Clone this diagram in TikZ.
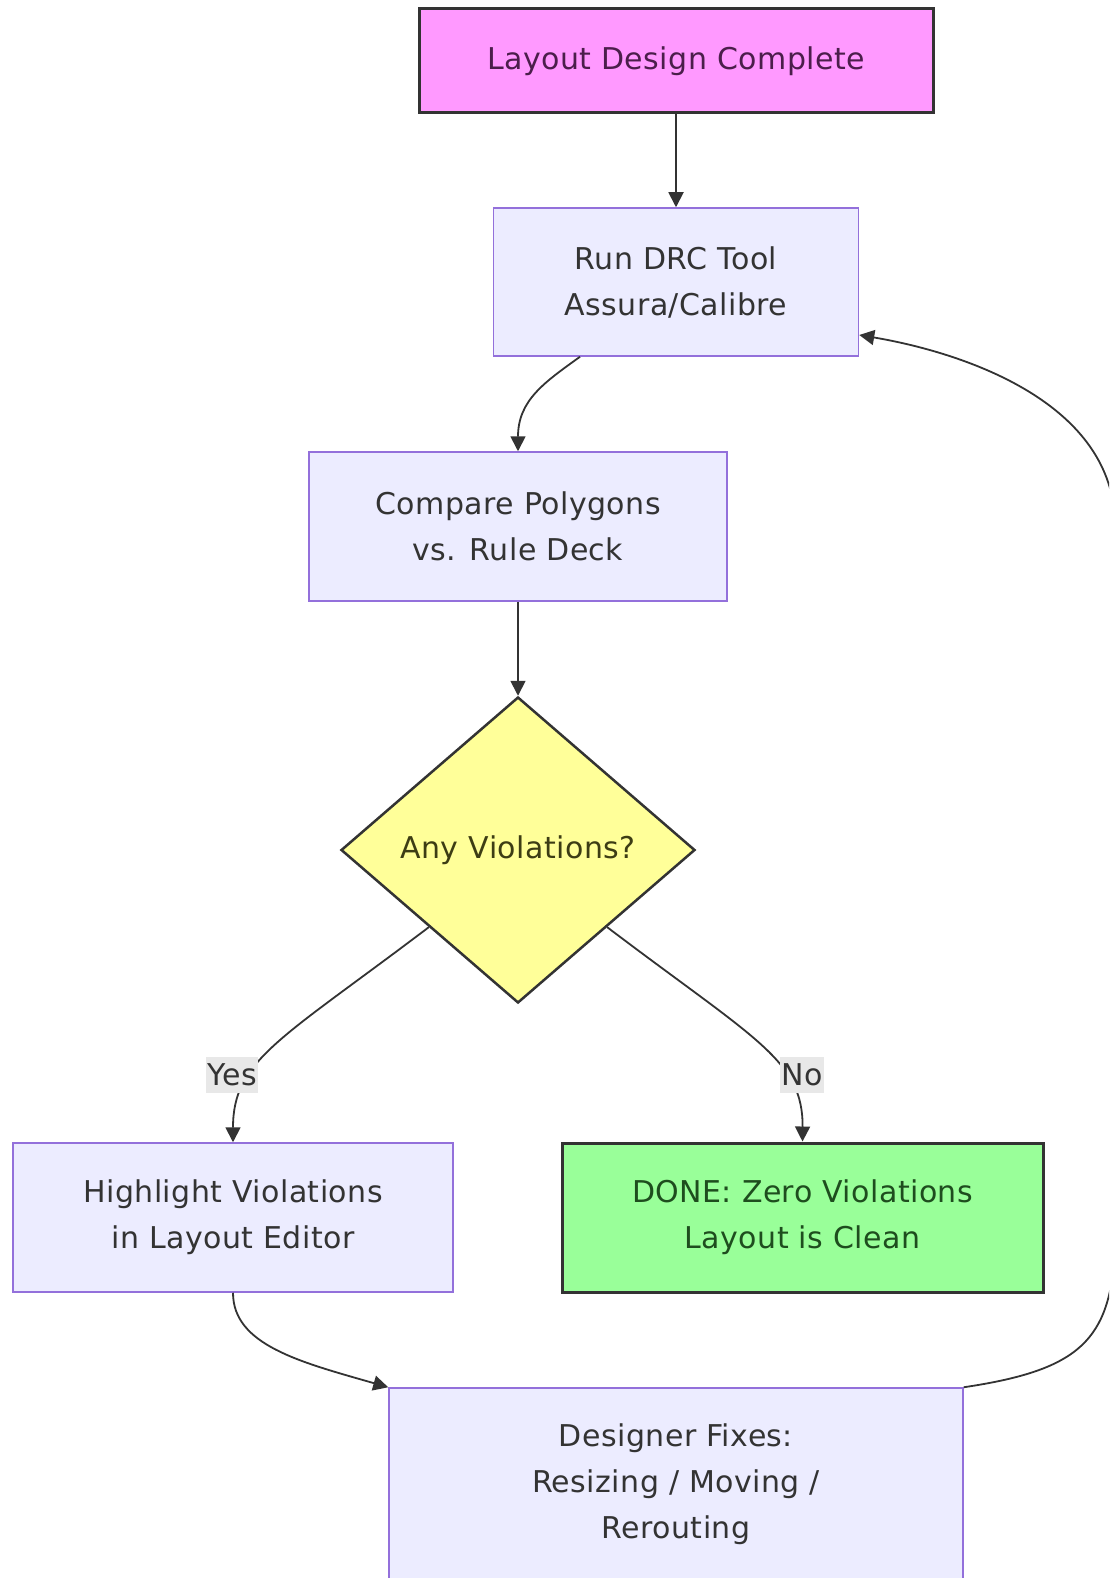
\documentclass[tikz,border=0pt]{standalone}
\usepackage{fontspec}
\setmainfont[LetterSpace=1.5]{DejaVu Sans}
\usetikzlibrary{shapes.geometric,arrows.meta}
\definecolor{edgecol}{HTML}{333333}
\definecolor{boxfill}{HTML}{ECECFF}
\definecolor{boxline}{HTML}{9370DB}
\definecolor{pinkfill}{HTML}{FF99FF}
\definecolor{greenfill}{HTML}{99FF99}
\definecolor{yellowfill}{HTML}{FFFF99}
\definecolor{pinktext}{HTML}{4B1E4B}
\definecolor{greentext}{HTML}{1E4D1E}
\definecolor{yellowtext}{HTML}{3D3D14}
\definecolor{labelfill}{HTML}{E8E8E8}
\tikzset{
  base/.style={align=center, inner sep=0pt, text=edgecol,
    font=\fontsize{30}{46}\selectfont},
  procbox/.style={base, rectangle, draw=boxline, fill=boxfill, line width=1.5pt},
  startbox/.style={base, rectangle, draw=edgecol, fill=pinkfill, line width=3pt, text=pinktext},
  donebox/.style={base, rectangle, draw=edgecol, fill=greenfill, line width=3pt, text=greentext},
  decision/.style={base, diamond, draw=edgecol, fill=yellowfill, line width=2.5pt, text=yellowtext},
  edgelabel/.style={base, fill=labelfill, inner xsep=1pt, minimum height=36pt},
  conn/.style={draw=edgecol, line width=1.8pt, -{Triangle[length=15pt,width=15pt]}},
}
\begin{document}
\begin{tikzpicture}[x=1pt,y=-1pt]
\useasboundingbox (0,0) rectangle (1109,1578);
\clip (0,0) rectangle (1109,1578);
\fill[white] (0,0) rectangle (1109,1578);

\node[startbox, minimum width=514pt, minimum height=104pt] (top) at (676,61) {Layout Design Complete};
\node[procbox, minimum width=365pt, minimum height=148pt] (run) at (676,282) {Run DRC Tool\\Assura/Calibre};
\node[procbox, minimum width=418pt, minimum height=149pt] (cmp) at (518,526.5) {Compare Polygons\\vs. Rule Deck};
\node[decision, minimum width=354pt, minimum height=306pt] (dia) at (518,850) {Any Violations?};
\node[procbox, minimum width=440pt, minimum height=149pt] (hl) at (233,1217.5) {Highlight Violations\\in Layout Editor};
\node[donebox, minimum width=481pt, minimum height=149pt] (done) at (802.5,1217.5) {DONE: Zero Violations\\Layout is Clean};
\node[procbox, minimum width=574pt, minimum height=192pt] (des) at (676,1484) {Designer Fixes:\\Resizing / Moving /\\Rerouting};

\draw[conn] (top.south) -- (run.north);
\draw[conn] ([xshift=-96pt]run.south) .. controls (545,382) and (518,400) .. (cmp.north);
\draw[conn] (cmp.south) -- (dia.north);
\draw[conn] (dia.south west) .. controls (280,1040) and (233,1060) .. (hl.north);
\draw[conn] (dia.south east) .. controls (756,1040) and (803,1060) .. (done.north);
\draw[conn] (hl.south) .. controls (233,1345) and (300,1362) .. (des.north west);
\draw[conn] (des.north east) .. controls (1080,1370) and (1110,1340) .. (1115,1250)
  -- (1115,520) .. controls (1110,400) and (960,352) .. ([yshift=-53pt]run.east);

\node[edgelabel] (yes) at (232,1075) {Yes};
\node[edgelabel] (no) at (802,1075) {No};
\end{tikzpicture}
\end{document}
